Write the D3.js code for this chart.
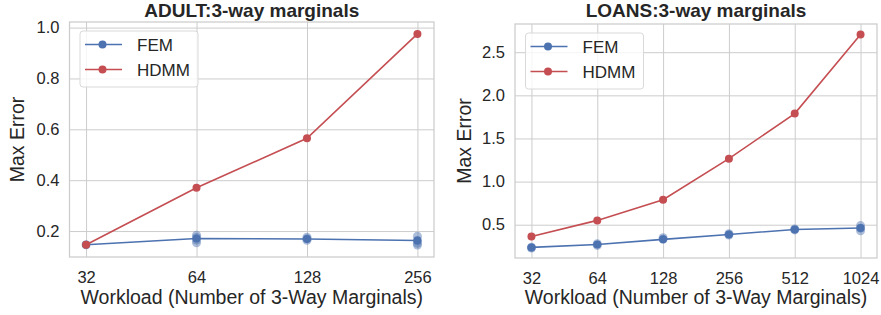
<!DOCTYPE html>
<html>
<head>
<meta charset="utf-8">
<script src="https://cdn.jsdelivr.net/npm/d3@7"></script>
<style>
  body { margin: 0; background: #fff; }
  svg { font-family: "Liberation Sans", Arial, sans-serif; }
</style>
</head>
<body>
<div id="chart"></div>
<script>
// ADULT panel
const adultWorkloads = [32, 64, 128, 256];
const adultFEM = [0.146, 0.171, 0.169, 0.163];
const adultHDMM = [0.146, 0.37, 0.565, 0.975];
const adultFEMRuns = [[0.146], [0.154, 0.165, 0.175, 0.184], [0.164, 0.170, 0.176], [0.145, 0.152, 0.163, 0.18]];
const adultYTicks = [0.2, 0.4, 0.6, 0.8, 1.0];

// LOANS panel
const loansWorkloads = [32, 64, 128, 256, 512, 1024];
const loansFEM = [0.237, 0.27, 0.33, 0.387, 0.445, 0.462];
const loansHDMM = [0.364, 0.55, 0.79, 1.266, 1.788, 2.704];
const loansFEMRuns = [[0.23, 0.24], [0.26, 0.28], [0.33, 0.35], [0.38, 0.395], [0.44, 0.45], [0.43, 0.46, 0.49]];
const loansYTicks = [0.5, 1.0, 1.5, 2.0, 2.5];

const seriesNames = ["FEM", "HDMM"];
const colors = { FEM: "#4C72B0", HDMM: "#C44E52" };
const textColor = "#262626";
const gridColor = "#cccccc";

const svg = d3.select("#chart").append("svg")
  .attr("width", 881)
  .attr("height", 315);

function drawPanel(opts) {
  const { left, right, top, bottom, title, workloads, fem, hdmm, femRuns, yTicks, yDomain, yLabelX } = opts;
  const pad = Math.log2(workloads[workloads.length - 1] / workloads[0]) * 0.05;

  const x = d3.scaleLog().base(2)
    .domain([workloads[0] / Math.pow(2, pad), workloads[workloads.length - 1] * Math.pow(2, pad)])
    .range([left, right]);
  const y = d3.scaleLinear().domain(yDomain).range([bottom, top]);

  const g = svg.append("g");

  // grid + ticks via axes
  const xAxis = g.append("g")
    .attr("transform", `translate(0,${bottom})`)
    .call(d3.axisBottom(x).tickValues(workloads).tickFormat(d3.format("d"))
      .tickSize(-(bottom - top)).tickPadding(14));
  const yAxis = g.append("g")
    .attr("transform", `translate(${left},0)`)
    .call(d3.axisLeft(y).tickValues(yTicks).tickFormat(d3.format(".1f"))
      .tickSize(-(right - left)).tickPadding(10));

  [xAxis, yAxis].forEach(ax => {
    ax.select(".domain").remove();
    ax.selectAll(".tick line").attr("stroke", gridColor).attr("stroke-width", 1);
    ax.selectAll(".tick text")
      .attr("fill", textColor)
      .style("font-size", "16.5px")
      .style("font-family", '"Liberation Sans", Arial, sans-serif');
  });

  // frame
  g.append("rect")
    .attr("x", left).attr("y", top)
    .attr("width", right - left).attr("height", bottom - top)
    .attr("fill", "none")
    .attr("stroke", gridColor)
    .attr("stroke-width", 1.25);

  const line = d3.line()
    .x(d => x(d[0]))
    .y(d => y(d[1]));

  // FEM runs scatter
  const runs = [];
  workloads.forEach((w, i) => femRuns[i].forEach(v => runs.push([w, v])));
  g.append("g").selectAll("circle")
    .data(runs)
    .enter().append("circle")
    .attr("cx", d => x(d[0]))
    .attr("cy", d => y(d[1]))
    .attr("r", 4.5)
    .attr("fill", colors.FEM)
    .attr("fill-opacity", 0.45);

  const series = [
    { name: "FEM", values: fem },
    { name: "HDMM", values: hdmm }
  ];
  series.forEach(s => {
    const pts = workloads.map((w, i) => [w, s.values[i]]);
    g.append("path")
      .datum(pts)
      .attr("d", line)
      .attr("fill", "none")
      .attr("stroke", colors[s.name])
      .attr("stroke-width", 1.6);
    g.append("g").selectAll("circle")
      .data(pts)
      .enter().append("circle")
      .attr("cx", d => x(d[0]))
      .attr("cy", d => y(d[1]))
      .attr("r", 4)
      .attr("fill", colors[s.name]);
  });

  // title
  g.append("text")
    .attr("x", (left + right) / 2)
    .attr("y", 17)
    .attr("text-anchor", "middle")
    .attr("fill", textColor)
    .style("font-size", "19px")
    .style("font-weight", "bold")
    .text(title);

  // axis labels
  g.append("text")
    .attr("x", (left + right) / 2)
    .attr("y", 304)
    .attr("text-anchor", "middle")
    .attr("fill", textColor)
    .style("font-size", "19.5px")
    .text("Workload (Number of 3-Way Marginals)");

  g.append("text")
    .attr("transform", `translate(${yLabelX},${(top + bottom) / 2}) rotate(-90)`)
    .attr("text-anchor", "middle")
    .attr("fill", textColor)
    .style("font-size", "19.5px")
    .text("Max Error");

  // legend
  const lx = left + 10.5, ly = top + 9;
  const legend = g.append("g").attr("transform", `translate(${lx},${ly})`);
  legend.append("rect")
    .attr("width", 118).attr("height", 56)
    .attr("rx", 3)
    .attr("fill", "#fff").attr("fill-opacity", 0.8)
    .attr("stroke", "#d9d9d9");
  const item = legend.selectAll(".legend-item")
    .data(seriesNames)
    .enter().append("g")
    .attr("class", "legend-item")
    .attr("transform", (d, i) => `translate(0,${13.5 + i * 25})`);
  item.append("line")
    .attr("x1", 5).attr("x2", 42)
    .attr("stroke", d => colors[d]).attr("stroke-width", 1.6);
  item.append("circle")
    .attr("cx", 22.5).attr("r", 4)
    .attr("fill", d => colors[d]);
  item.append("text")
    .attr("x", 57).attr("y", 6)
    .attr("fill", textColor)
    .style("font-size", "17px")
    .text(d => d);
}

drawPanel({
  left: 69.5, right: 434, top: 22, bottom: 257,
  title: "ADULT:3-way marginals",
  workloads: adultWorkloads, fem: adultFEM, hdmm: adultHDMM, femRuns: adultFEMRuns,
  yTicks: adultYTicks, yDomain: [0.098, 1.022], yLabelX: 24
});

drawPanel({
  left: 515, right: 877, top: 24, bottom: 258,
  title: "LOANS:3-way marginals",
  workloads: loansWorkloads, fem: loansFEM, hdmm: loansHDMM, femRuns: loansFEMRuns,
  yTicks: loansYTicks, yDomain: [0.114, 2.827], yLabelX: 471
});
</script>
</body>
</html>
